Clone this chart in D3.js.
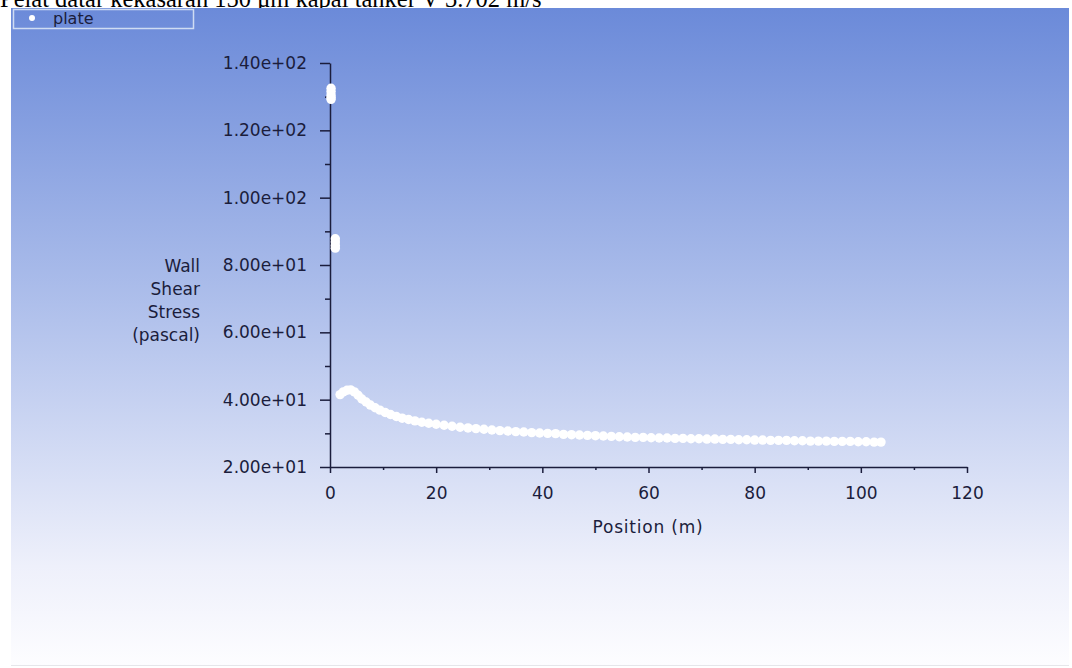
<!DOCTYPE html>
<html>
<head>
<meta charset="utf-8">
<script src="https://cdn.jsdelivr.net/npm/d3@7/dist/d3.min.js"></script>
<style>
  html, body { margin: 0; padding: 0; background: #ffffff; }
  svg { display: block; }
</style>
</head>
<body>
<svg id="chart" width="1072" height="668"></svg>
<script>
// ---------------- data ----------------
const titleText = "Pelat datar kekasaran 150 μm kapal tanker V 3.702 m/s";
const seriesName = "plate";
const xLabel = "Position (m)";
const yLabelLines = ["Wall", "Shear", "Stress", "(pascal)"];
const xTicks = [0, 20, 40, 60, 80, 100, 120];
const xMinorTicks = [10, 30, 50, 70, 90, 110];
const yTicks = [20, 40, 60, 80, 100, 120, 140];
const yMinorTicks = [30, 50, 70, 90, 110, 130];

const positions = [
  0.2, 0.2, 0.2, 0.2, 0.2,
  1.0, 1.0, 1.0, 1.0,
  1.9, 2.5, 3.2, 3.9, 4.6, 5.3, 6.0, 6.8, 7.6, 8.5, 9.4, 10.4, 11.4, 12.5, 13.6, 14.8,
  16.0, 17.3, 18.6, 20.0, 21.5, 23.0, 24.5, 26.0, 27.5, 29.0, 30.5, 32.0, 33.5, 35.0,
  36.5, 38.0, 39.5, 41.0, 42.5, 44.0, 45.5, 47.0, 48.5, 50.0, 51.5, 53.0, 54.5, 56.0,
  57.5, 59.0, 60.5, 62.0, 63.5, 65.0, 66.5, 68.0, 69.5, 71.0, 72.5, 74.0, 75.5, 77.0,
  78.5, 80.0, 81.5, 83.0, 84.5, 86.0, 87.5, 89.0, 90.5, 92.0, 93.5, 95.0, 96.5, 98.0,
  99.5, 101.0, 102.5, 103.8
];
const shearStress = [
  132.5, 131.5, 130.5, 129.8, 129.2,
  87.8, 86.8, 85.8, 85.0,
  41.5, 42.3, 42.8, 42.9, 42.3, 41.3, 40.2, 39.3, 38.4, 37.6, 36.9, 36.2, 35.6, 35.0, 34.5, 34.1,
  33.7, 33.3, 33.0, 32.7, 32.4, 32.1, 31.8, 31.6, 31.4, 31.2, 31.0, 30.8, 30.7, 30.5,
  30.4, 30.2, 30.1, 30.0, 29.9, 29.7, 29.6, 29.5, 29.4, 29.3, 29.2, 29.1, 29.0, 28.9,
  28.8, 28.8, 28.7, 28.6, 28.6, 28.5, 28.5, 28.4, 28.4, 28.3, 28.3, 28.2, 28.2, 28.1,
  28.1, 28.0, 28.0, 27.9, 27.9, 27.9, 27.8, 27.8, 27.7, 27.7, 27.7, 27.6, 27.6, 27.6,
  27.5, 27.5, 27.4, 27.4
];

// ---------------- drawing ----------------
const svg = d3.select("#chart");
const font = "'DejaVu Sans', sans-serif";
const ink = "#1b1d3c";

// title (partly hidden under the panel, as in the reference)
svg.append("text")
  .attr("x", 0).attr("y", 7)
  .attr("font-family", "'Liberation Serif', serif")
  .attr("font-size", 24.5)
  .attr("fill", "#000")
  .text(titleText);

// gradient panel
const defs = svg.append("defs");
const grad = defs.append("linearGradient").attr("id", "bg").attr("x1", 0).attr("y1", 0).attr("x2", 0).attr("y2", 1);
grad.append("stop").attr("offset", "0%").attr("stop-color", "#6b8ad9");
grad.append("stop").attr("offset", "45%").attr("stop-color", "#aebfeb");
grad.append("stop").attr("offset", "85%").attr("stop-color", "#eef0fb");
grad.append("stop").attr("offset", "100%").attr("stop-color", "#fdfdff");
svg.append("rect").attr("x", 11).attr("y", 8).attr("width", 1058).attr("height", 657).attr("fill", "url(#bg)");
svg.append("line").attr("x1", 11).attr("x2", 1069).attr("y1", 665.5).attr("y2", 665.5).attr("stroke", "#e6e6ea").attr("stroke-width", 1);

// scales
const x = d3.scaleLinear().domain([0, 120]).range([330, 967]);
const y = d3.scaleLinear().domain([20, 140]).range([467, 63]);

function sciFmt(v) {
  const s = d3.format(".2e")(v); // e.g. 2.00e+1
  const [m, e] = s.split("e");
  const sign = e[0];
  const digits = e.slice(1).padStart(2, "0");
  return m + "e" + sign + digits;
}

// Y axis
svg.append("g").attr("transform", "translate(330,0)")
  .call(d3.axisLeft(y).tickValues(yTicks).tickSize(10).tickPadding(13).tickFormat(sciFmt).tickSizeOuter(0));
svg.append("g").attr("transform", "translate(330,0)")
  .call(d3.axisLeft(y).tickValues(yMinorTicks).tickSize(5).tickFormat("").tickSizeOuter(0))
  .select(".domain").remove();

// X axis
svg.append("g").attr("transform", "translate(0,467)")
  .call(d3.axisBottom(x).tickValues(xTicks).tickSize(6).tickPadding(14).tickFormat(d3.format("d")).tickSizeOuter(0));
svg.append("g").attr("transform", "translate(0,467)")
  .call(d3.axisBottom(x).tickValues(xMinorTicks).tickSize(3).tickFormat("").tickSizeOuter(0))
  .select(".domain").remove();

svg.selectAll(".domain").attr("stroke", ink).attr("stroke-width", 1.5);
svg.selectAll(".tick line").attr("stroke", ink).attr("stroke-width", 1.5);
svg.selectAll(".tick text").attr("fill", ink).attr("font-family", font).attr("font-size", 17);

// axis titles
svg.append("text")
  .attr("x", 648).attr("y", 533)
  .attr("text-anchor", "middle")
  .attr("font-family", font).attr("font-size", 17).attr("fill", ink)
  .attr("letter-spacing", 0.8)
  .text(xLabel);

svg.append("text")
  .attr("font-family", font).attr("font-size", 17).attr("fill", ink)
  .attr("text-anchor", "end")
  .selectAll("tspan").data(yLabelLines).join("tspan")
  .attr("x", 200).attr("y", (d, i) => 272 + i * 23)
  .text(d => d);

// points
const pts = positions.map((p, i) => ({ p, v: shearStress[i] }));
svg.append("g").selectAll("circle").data(pts).join("circle")
  .attr("cx", d => x(d.p)).attr("cy", d => y(d.v))
  .attr("r", 4.7)
  .attr("fill", "#ffffff");

// legend
svg.append("rect").attr("x", 13.5).attr("y", 9.5).attr("width", 180).attr("height", 19)
  .attr("fill", "none").attr("stroke", "#cfdcf3").attr("stroke-width", 1.5);
svg.append("circle").attr("cx", 32).attr("cy", 18).attr("r", 3).attr("fill", "#ffffff");
svg.append("text").attr("x", 53).attr("y", 24)
  .attr("font-family", font).attr("font-size", 16).attr("fill", ink)
  .text(seriesName);
</script>
</body>
</html>
